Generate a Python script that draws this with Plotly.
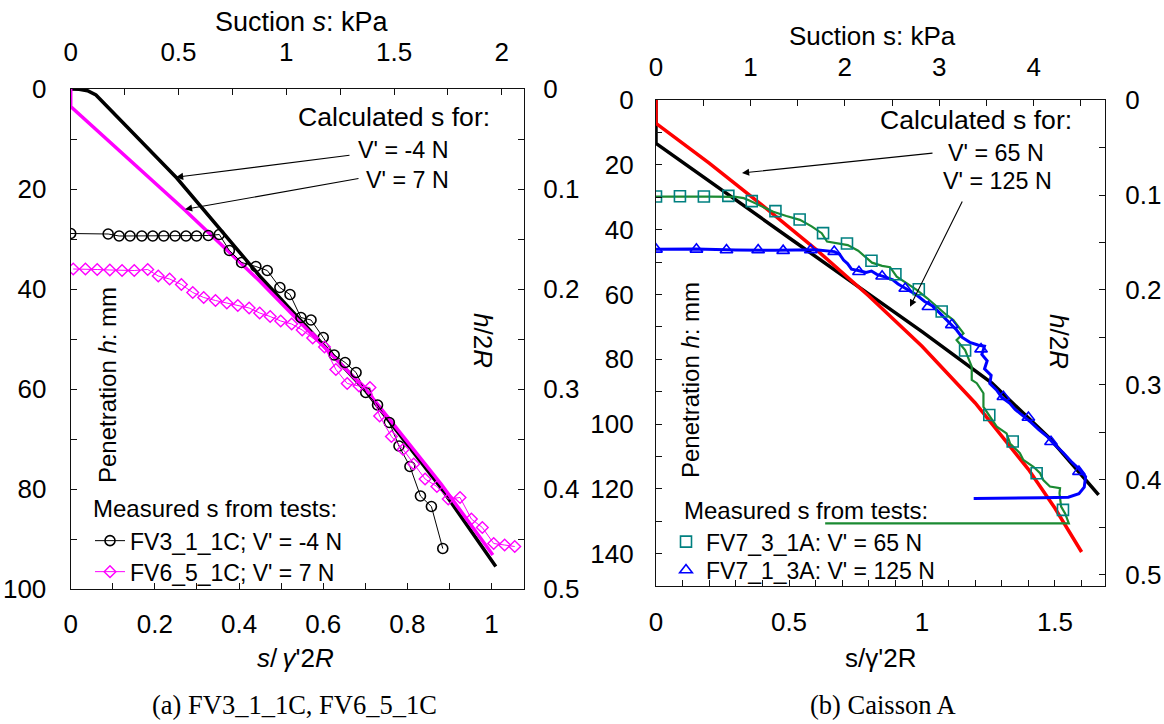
import plotly.graph_objects as go

W, H = 1164, 724

# ---------------- Panel (a): FV3_1_1C, FV6_5_1C ----------------
# normalised suction s/γ'2R  vs  penetration h (mm)
calc_m4_x = [0.0, 0.02, 0.04, 0.06, 0.133, 0.252, 0.45, 0.70, 0.88, 1.01]
calc_m4_h = [0.0, 0.05, 0.35, 1.2, 7.5, 17.8, 37.5, 60.3, 79.8, 95.5]

calc_7_x = [0.0, 0.0, 0.271, 0.45, 0.70, 0.88, 1.003]
calc_7_h = [0.0, 3.5, 24.2, 38.5, 60.0, 79.0, 93.2]

fv3_x = [0.0, 0.089, 0.115, 0.141, 0.169, 0.195, 0.221, 0.248, 0.274, 0.299,
         0.327, 0.353, 0.377, 0.406, 0.44, 0.467, 0.497, 0.521, 0.547, 0.571,
         0.6, 0.626, 0.652, 0.678, 0.701, 0.729, 0.757, 0.78, 0.806, 0.831,
         0.857, 0.884]
fv3_h = [28.9, 29.0, 29.4, 29.4, 29.4, 29.4, 29.4, 29.4, 29.4, 29.4,
         29.3, 29.1, 32.3, 34.7, 35.5, 36.3, 39.7, 41.1, 45.7, 46.2,
         49.7, 53.2, 54.7, 56.7, 60.7, 63.2, 66.7, 71.4, 75.5, 81.4,
         83.5, 91.9]

fv6_x = [0.006, 0.035, 0.063, 0.093, 0.122, 0.151, 0.183, 0.208, 0.235, 0.263,
         0.29, 0.316, 0.344, 0.371, 0.397, 0.424, 0.449, 0.474, 0.499, 0.525,
         0.55, 0.575, 0.603, 0.63, 0.657, 0.685, 0.711, 0.734, 0.762, 0.79,
         0.815, 0.842, 0.87, 0.897, 0.925, 0.952, 0.978, 1.005, 1.031, 1.055]
fv6_h = [36.0, 36.0, 36.1, 36.2, 36.3, 36.3, 36.1, 37.4, 38.0, 39.1,
         40.7, 41.7, 42.3, 42.8, 43.3, 43.8, 44.8, 45.5, 46.4, 47.0,
         48.2, 49.8, 51.6, 56.1, 58.9, 59.4, 59.7, 65.4, 69.5, 72.1,
         75.0, 78.0, 79.5, 82.0, 81.7, 86.0, 87.7, 90.9, 91.2, 91.5]

# ---------------- Panel (b): Caisson A ----------------
calc65_x = [0.0, 0.0, 0.2, 0.4, 0.6, 0.8, 1.0, 1.2, 1.4, 1.5, 1.6]
calc65_h = [0.0, 7.2, 19.5, 32.5, 46.0, 60.5, 76.0, 93.5, 114.0, 126.0, 139.5]

calc125_x = [0.0, 0.0, 0.5, 0.742, 1.0, 1.263, 1.481, 1.664]
calc125_h = [0.0, 13.4, 42.5, 56.6, 71.5, 87.4, 104.5, 121.9]

fv7_31_x = [0.0, 0.1, 0.2, 0.3, 0.33, 0.353, 0.4, 0.441, 0.49, 0.541, 0.585,
            0.623, 0.643, 0.68, 0.721, 0.76, 0.812, 0.85, 0.88, 0.905, 0.94,
            0.98, 1.02, 1.055, 1.09, 1.118, 1.156, 1.13, 1.162, 1.187, 1.187,
            1.206, 1.231, 1.231, 1.256, 1.281, 1.318, 1.331, 1.368, 1.381,
            1.419, 1.444, 1.456, 1.481, 1.519, 1.517, 1.523, 1.538, 1.552, 0.636]
fv7_31_h = [29.8, 29.7, 29.8, 29.9, 30.3, 31.1, 33.0, 34.5, 35.8, 37.0, 39.0,
            41.1, 43.7, 44.3, 44.8, 46.5, 50.2, 51.2, 51.6, 54.5, 56.5,
            58.6, 61.2, 63.8, 66.2, 67.9, 72.0, 74.1, 77.2, 82.3, 86.4,
            87.4, 90.5, 94.7, 97.7, 100.8, 102.9, 106.0, 109.0, 111.1,
            113.2, 115.2, 117.3, 119.3, 119.8, 121.4, 125.5, 127.6, 130.7, 130.7]
fv7_31_mark_x = [0.0, 0.09, 0.18, 0.272, 0.36, 0.449, 0.54, 0.628, 0.718, 0.81,
                 0.9, 0.988, 1.074, 1.162, 1.253, 1.341, 1.431, 1.53]
fv7_31_mark_h = [29.8, 29.7, 29.8, 29.6, 31.2, 34.3, 36.9, 41.1, 44.3, 49.6,
                 53.8, 58.4, 65.3, 77.3, 97.2, 105.4, 115.2, 126.5]

fv7_13_x = [0.0, 0.15, 0.3, 0.45, 0.6, 0.67, 0.69, 0.705, 0.72, 0.735, 0.76,
            0.79, 0.81, 0.83, 0.86, 0.89, 0.91, 0.93, 0.95, 0.98, 1.01, 1.04,
            1.07, 1.10, 1.13, 1.15, 1.18, 1.21, 1.235, 1.225, 1.245, 1.235,
            1.26, 1.255, 1.28, 1.30, 1.33, 1.35, 1.38, 1.41, 1.44, 1.47, 1.50,
            1.53, 1.56, 1.59, 1.615, 1.61, 1.59, 1.55, 1.45, 1.3, 1.2, 1.2]
fv7_13_h = [46.1, 46.0, 46.3, 46.4, 46.2, 46.8, 47.6, 49.4, 50.5, 52.2, 52.6,
            53.2, 52.8, 53.8, 54.6, 55.5, 56.8, 57.8, 58.8, 60.2, 62.2, 63.6,
            66.0, 68.6, 71.0, 73.2, 74.8, 75.6, 76.0, 78.5, 80.5, 83.0,
            85.0, 87.5, 89.5, 91.8, 93.6, 95.5, 97.5, 99.5, 101.8, 103.8, 106.5,
            108.8, 111.5, 113.8, 116.3, 119.5, 121.5, 122.6, 122.8, 122.9, 123.0, 122.5]
fv7_13_mark_x = [0.0, 0.152, 0.265, 0.384, 0.478, 0.582, 0.67, 0.763, 0.85,
                 0.937, 1.024, 1.112, 1.222, 1.306, 1.4, 1.485, 1.59]
fv7_13_mark_h = [46.1, 46.1, 46.3, 46.3, 46.5, 46.3, 46.8, 53.0, 54.4,
                 58.2, 63.8, 69.4, 76.9, 91.6, 98.0, 105.5, 114.7]

# axis ranges
a_x_range, a_xtop_range = [0, 1.077], [0, 2.103]
a_h_range, a_hn_range = [100, 0], [0.5, 0]
b_x_range, b_xtop_range = [0, 1.688], [0, 4.756]
b_h_range, b_hn_range = [150, 0], [0.5116, 0]

SANS = "Liberation Sans, Arial, sans-serif"
SERIF = "Liberation Serif, Times New Roman, serif"


def px(x):
    return x / W


def py(y):
    return 1 - y / H


fig = go.Figure()

# ---- panel (a) traces
fig.add_trace(go.Scatter(x=calc_m4_x, y=calc_m4_h, mode="lines",
                         line=dict(color="black", width=3.5), showlegend=False,
                         xaxis="x", yaxis="y"))
fig.add_trace(go.Scatter(x=calc_7_x, y=calc_7_h, mode="lines",
                         line=dict(color="#ff00ff", width=3.5), showlegend=False,
                         xaxis="x", yaxis="y"))
fig.add_trace(go.Scatter(x=fv3_x, y=fv3_h, mode="lines+markers",
                         name="FV3_1_1C; V' = -4 N",
                         line=dict(color="black", width=1),
                         marker=dict(symbol="circle-open", size=10, color="black",
                                     line=dict(width=1.6)),
                         legend="legend", xaxis="x", yaxis="y"))
fig.add_trace(go.Scatter(x=fv6_x, y=fv6_h, mode="lines+markers",
                         name="FV6_5_1C; V' = 7 N",
                         line=dict(color="#ff00ff", width=1),
                         marker=dict(symbol="diamond-open", size=9, color="#ff00ff",
                                     line=dict(width=1.4)),
                         legend="legend2", xaxis="x", yaxis="y"))
fig.add_trace(go.Scatter(x=[], y=[], showlegend=False, hoverinfo="skip",
                         xaxis="x2", yaxis="y2"))

# ---- panel (b) traces
fig.add_trace(go.Scatter(x=calc125_x, y=calc125_h, mode="lines",
                         line=dict(color="black", width=3.5), showlegend=False,
                         xaxis="x3", yaxis="y3"))
fig.add_trace(go.Scatter(x=calc65_x, y=calc65_h, mode="lines",
                         line=dict(color="#ff0000", width=3.5), showlegend=False,
                         xaxis="x3", yaxis="y3"))
fig.add_trace(go.Scatter(x=fv7_31_x, y=fv7_31_h, mode="lines",
                         line=dict(color="#1b8a32", width=2.2), showlegend=False,
                         xaxis="x3", yaxis="y3"))
fig.add_trace(go.Scatter(x=fv7_13_x, y=fv7_13_h, mode="lines",
                         line=dict(color="#0000ff", width=3), showlegend=False,
                         xaxis="x3", yaxis="y3"))
fig.add_trace(go.Scatter(x=fv7_31_mark_x, y=fv7_31_mark_h, mode="markers",
                         name="FV7_3_1A: V' = 65 N",
                         marker=dict(symbol="square-open", size=11, color="#008080",
                                     line=dict(width=1.6)),
                         legend="legend3", xaxis="x3", yaxis="y3"))
fig.add_trace(go.Scatter(x=fv7_13_mark_x, y=fv7_13_mark_h, mode="markers",
                         name="FV7_1_3A: V' = 125 N",
                         marker=dict(symbol="triangle-up-open", size=11, color="#0000ff",
                                     line=dict(width=1.6)),
                         legend="legend4", xaxis="x3", yaxis="y3"))
fig.add_trace(go.Scatter(x=[], y=[], showlegend=False, hoverinfo="skip",
                         xaxis="x4", yaxis="y4"))

tickfont = dict(family=SANS, size=26, color="black")


def ax(**kw):
    base = dict(showgrid=False, zeroline=False, showline=True, linecolor="#111",
                linewidth=1.3, ticks="inside", ticklen=6, tickcolor="#111",
                tickwidth=1.2, tickfont=tickfont, fixedrange=True, automargin=False)
    base.update(kw)
    return base


def minor(d):
    return dict(dtick=d, ticks="inside", ticklen=6, tickcolor="#111", tickwidth=1.2)


def leg(x, y):
    return dict(x=px(x), y=py(y), xanchor="left", yanchor="middle",
                bgcolor="rgba(0,0,0,0)", borderwidth=0, itemwidth=30,
                font=dict(family=SANS, size=23, color="black"))


a_dom_x = [px(70.7), px(524)]
a_dom_y = [py(589), py(89)]
b_dom_x = [px(656), px(1105)]
b_dom_y = [py(586), py(100)]

fig.update_layout(
    width=W, height=H, margin=dict(l=0, r=0, t=0, b=0, autoexpand=False),
    paper_bgcolor="white", plot_bgcolor="white",
    xaxis=ax(domain=a_dom_x, anchor="y", range=a_x_range, tick0=0, dtick=0.2,
             minor=minor(0.1), ticklabelstandoff=12),
    xaxis2=ax(overlaying="x", side="top", anchor="y", range=a_xtop_range,
              tick0=0, dtick=0.5, minor=minor(0.25), ticklabelstandoff=16),
    yaxis=ax(domain=a_dom_y, anchor="x", range=a_h_range, tick0=0, dtick=20,
             minor=minor(10), ticklabelstandoff=18),
    yaxis2=ax(overlaying="y", side="right", anchor="x", range=a_hn_range,
              tick0=0, dtick=0.1, minor=minor(0.05), ticklabelstandoff=13),
    xaxis3=ax(domain=b_dom_x, anchor="y3", range=b_x_range, tick0=0, dtick=0.5,
              minor=minor(0.1), ticklabelstandoff=13),
    xaxis4=ax(overlaying="x3", side="top", anchor="y3", range=b_xtop_range,
              tick0=0, dtick=1, minor=minor(0.5), ticklabelstandoff=12),
    yaxis3=ax(domain=b_dom_y, anchor="x3", range=b_h_range, tick0=0, dtick=20,
              minor=minor(10), ticklabelstandoff=16),
    yaxis4=ax(overlaying="y3", side="right", anchor="x3", range=b_hn_range,
              tick0=0, dtick=0.1, minor=minor(0.05), ticklabelstandoff=14),
    legend=leg(90, 540.7),
    legend2=leg(90, 571.7),
    legend3=leg(666, 541.7),
    legend4=leg(666, 570),
)


def txt(x, y, text, size, xanchor="center", angle=0, family=SANS):
    fig.add_annotation(x=px(x), y=py(y), xref="paper", yref="paper", text=text,
                       showarrow=False, xanchor=xanchor, yanchor="middle",
                       textangle=angle, font=dict(family=family, size=size, color="black"))


def arrow(x_head, y_head, x_tail, y_tail):
    fig.add_annotation(x=px(x_head), y=py(y_head), xref="paper", yref="paper",
                       ax=x_tail - x_head, ay=y_tail - y_head, axref="pixel", ayref="pixel",
                       text="", showarrow=True, arrowhead=2, arrowsize=1.3,
                       arrowwidth=1.1, arrowcolor="black")


# panel (a) labels
txt(302, 22, "Suction <i>s</i>: kPa", 27)
txt(295, 658, "<i>s</i>/\u2009<i>γ</i>'2<i>R</i>", 26)
txt(294, 705, "(a) FV3_1_1C, FV6_5_1C", 26.5, family=SERIF)
txt(492, 117, "Calculated s for:", 26.6, xanchor="right")
txt(451, 150, "V' = -4 N", 23.3, xanchor="right")
txt(451, 180, "V' = 7 N", 23.3, xanchor="right")
arrow(176, 177.3, 351, 155)
arrow(185, 209.3, 360, 178.3)
txt(108, 385, "Penetration <i>h</i>: mm", 24, angle=-90)
txt(483, 340, "<i>h</i>/2<i>R</i>", 26, angle=90)
txt(91, 508, "Measured s from tests:", 24, xanchor="left")

# panel (b) labels
txt(872, 36, "Suction s: kPa", 26)
txt(880, 658, "s/γ'2R", 26)
txt(883, 705, "(b) Caisson A", 26.5, family=SERIF)
txt(1074, 120, "Calculated s for:", 26.6, xanchor="right")
txt(1046, 153, "V' = 65 N", 23.3, xanchor="right")
txt(1054, 181, "V' = 125 N", 23.3, xanchor="right")
arrow(742, 173, 934, 153)
arrow(910, 306.7, 963, 200)
txt(690, 380, "Penetration <i>h</i>: mm", 24, angle=-90)
txt(1059, 341, "<i>h</i>/2<i>R</i>", 26, angle=90)
txt(682, 510, "Measured s from tests:", 24, xanchor="left")

fig.write_html("out.html")
